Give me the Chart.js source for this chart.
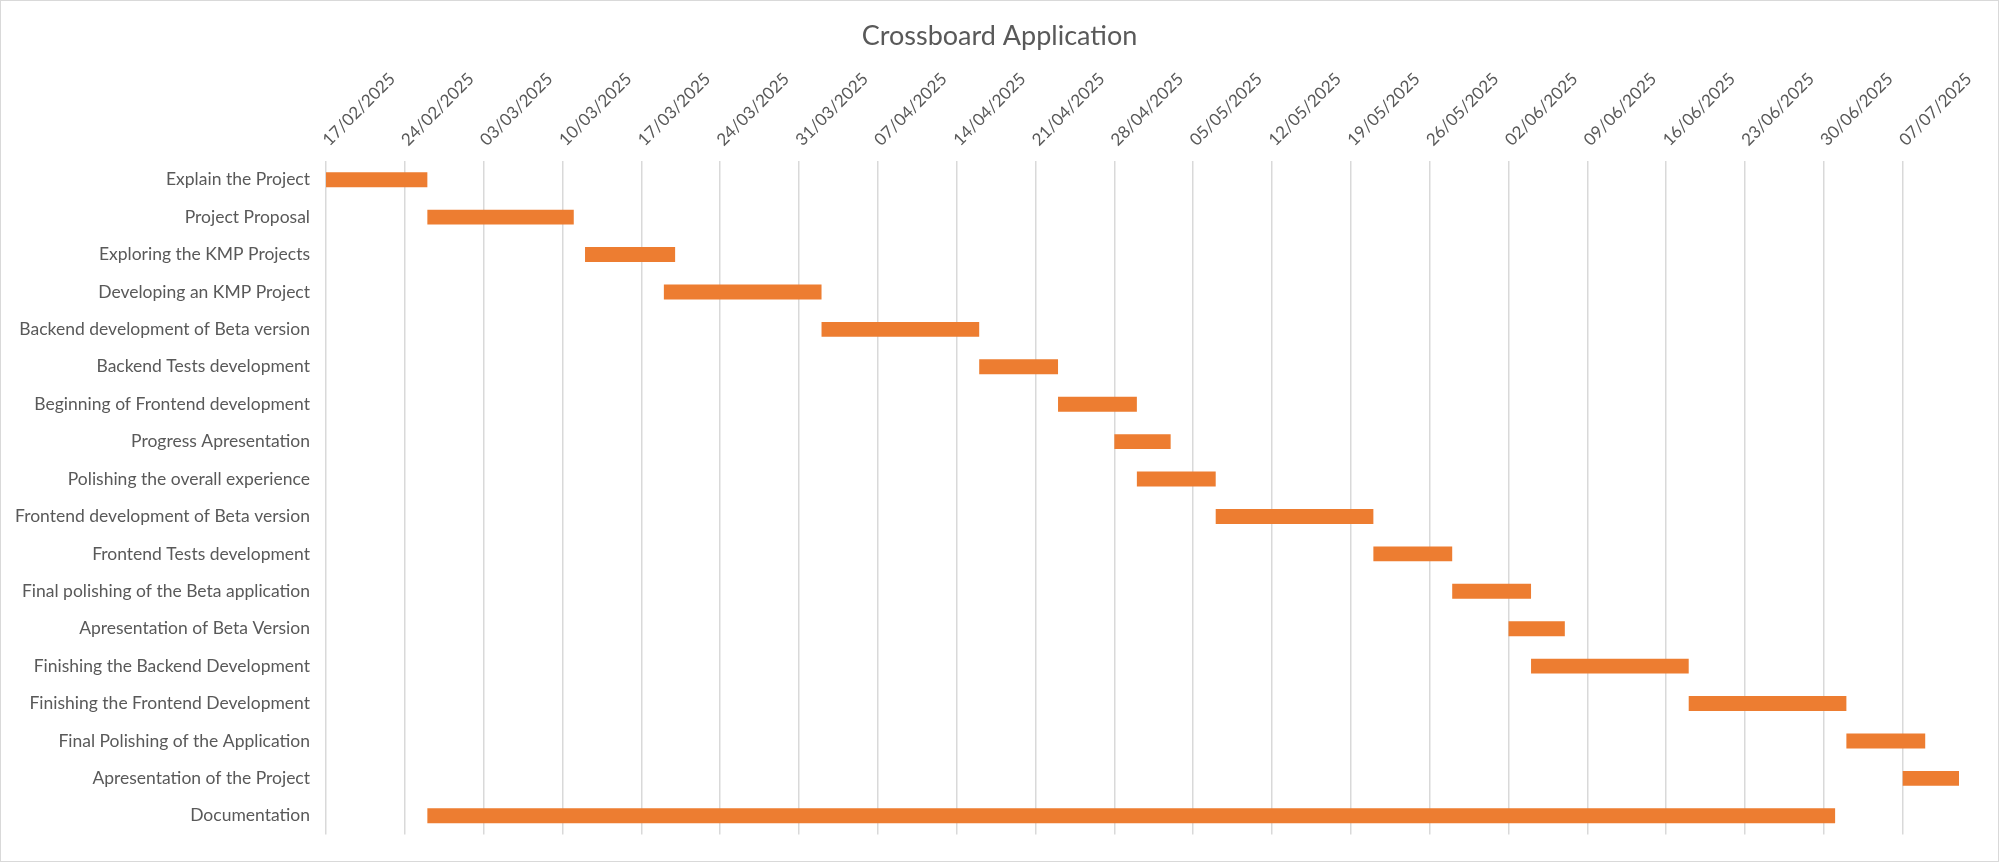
<!DOCTYPE html>
<html><head><meta charset="utf-8">
<script src="https://cdn.jsdelivr.net/npm/chart.js@4.4.1/dist/chart.umd.min.js"></script>
<style>
html,body{margin:0;padding:0;background:#fff;}
#wrap{position:absolute;left:0;top:0;width:1997px;height:860px;border:1px solid #D9D9D9;}
</style></head><body>
<div id="wrap"><canvas id="c"></canvas></div>
<script>
const chartTitle = 'Crossboard Application';
const tasks = [
  'Explain the Project',
  'Project Proposal',
  'Exploring the KMP Projects',
  'Developing an KMP Project',
  'Backend development of Beta version',
  'Backend Tests development',
  'Beginning of Frontend development',
  'Progress Apresentation',
  'Polishing the overall experience',
  'Frontend development of Beta version',
  'Frontend Tests development',
  'Final polishing of the Beta application',
  'Apresentation of Beta Version',
  'Finishing the Backend Development',
  'Finishing the Frontend Development',
  'Final Polishing of the Application',
  'Apresentation of the Project',
  'Documentation'
];
const startDates = [
  '2025-02-17','2025-02-26','2025-03-12','2025-03-19','2025-04-02','2025-04-16',
  '2025-04-23','2025-04-28','2025-04-30','2025-05-07','2025-05-21','2025-05-28',
  '2025-06-02','2025-06-04','2025-06-18','2025-07-02','2025-07-07','2025-02-26'
];
const endDates = [
  '2025-02-26','2025-03-11','2025-03-20','2025-04-02','2025-04-16','2025-04-23',
  '2025-04-30','2025-05-03','2025-05-07','2025-05-21','2025-05-28','2025-06-04',
  '2025-06-07','2025-06-18','2025-07-02','2025-07-09','2025-07-12','2025-07-01'
];
const tickLabels = [
  '17/02/2025','24/02/2025','03/03/2025','10/03/2025','17/03/2025','24/03/2025',
  '31/03/2025','07/04/2025','14/04/2025','21/04/2025','28/04/2025','05/05/2025',
  '12/05/2025','19/05/2025','26/05/2025','02/06/2025','09/06/2025','16/06/2025',
  '23/06/2025','30/06/2025','07/07/2025'
];
const axisStart = '2025-02-17';
const axisEnd = '2025-07-12';

function isoDay(s){ const p = s.split('-').map(Number); return Date.UTC(p[0], p[1]-1, p[2]) / 86400000; }
function dmyDay(s){ const p = s.split('/').map(Number); return Date.UTC(p[2], p[1]-1, p[0]) / 86400000; }

Chart.defaults.font.family = 'Lato';
Chart.defaults.color = '#595959';

new Chart(document.getElementById('c'), {
  type: 'bar',
  data: {
    labels: tasks,
    datasets: [{
      data: tasks.map((t, i) => [isoDay(startDates[i]), isoDay(endDates[i])]),
      backgroundColor: '#ED7D31',
      borderWidth: 0,
      borderSkipped: false,
      barPercentage: 0.4,
      categoryPercentage: 1
    }]
  },
  options: {
    indexAxis: 'y',
    responsive: true,
    maintainAspectRatio: false,
    animation: false,
    layout: { padding: { left: 0, right: 0, top: 0, bottom: 23 } },
    plugins: {
      legend: { display: false },
      tooltip: { enabled: false },
      title: {
        display: true, text: chartTitle, color: '#595959',
        font: { size: 27, weight: 'normal' },
        padding: { top: 19, bottom: 0 }
      }
    },
    scales: {
      x: {
        type: 'linear', position: 'top',
        min: isoDay(axisStart), max: isoDay(axisEnd),
        grid: { color: '#D9D9D9', lineWidth: 1.5, drawTicks: false },
        border: { display: false },
        ticks: {
          minRotation: 45, maxRotation: 45, padding: 11, labelOffset: 14, autoSkip: false,
          font: { size: 17 },
          callback: (v, i) => tickLabels[i]
        },
        afterBuildTicks: s => { s.ticks = tickLabels.map(l => ({ value: dmyDay(l) })); },
        afterFit: s => { s.paddingLeft = 0; s.paddingRight = 39; s.height = 160 - s.chart.titleBlock.height; }
      },
      y: {
        grid: { display: false, drawTicks: false },
        border: { display: false },
        ticks: { padding: 16, font: { size: 17.5 } },
        afterFit: s => { s.width = 325; }
      }
    }
  }
});
</script>
</body></html>
